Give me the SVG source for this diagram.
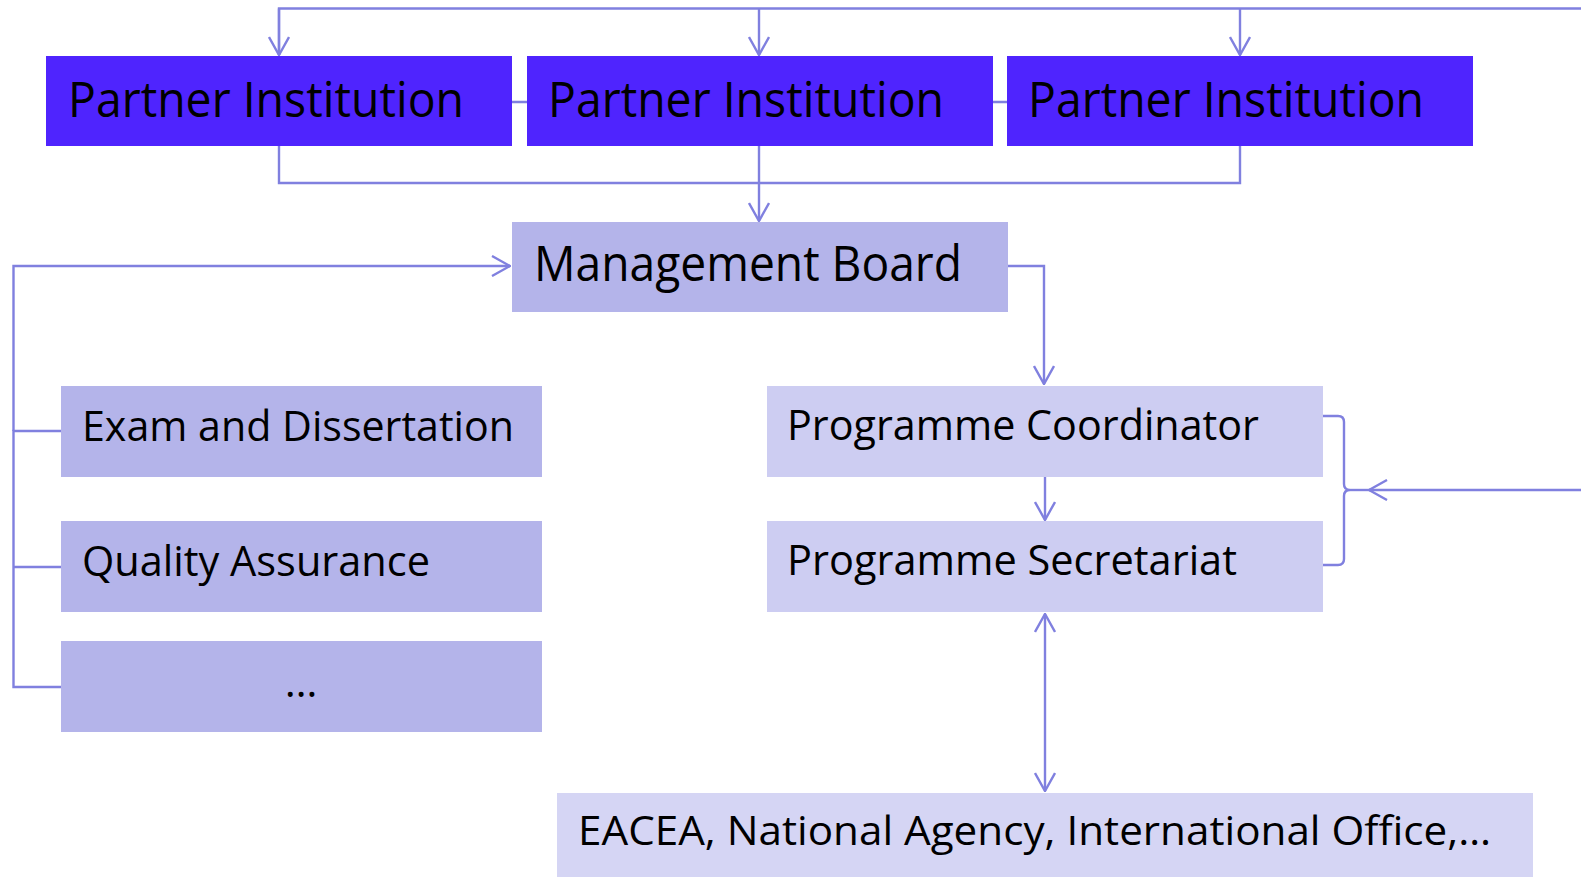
<svg xmlns="http://www.w3.org/2000/svg" width="1581" height="877" viewBox="0 0 1581 877">
<style>
.pi{fill:#4F24FE}
.mb{fill:#B4B4EA}
.pc{fill:#CDCDF2}
.ea{fill:#D5D5F4}
text{font-family:"Open Sans","Liberation Sans",sans-serif;fill:#000}
.big{font-size:49px}
.mid{font-size:42px}
.sm{font-size:40px}
.c{fill:none;stroke:#8080DF;stroke-width:2.4}
</style>
<defs>
<marker id="arr" viewBox="0 0 20 22" refX="19" refY="11" markerWidth="20" markerHeight="22" markerUnits="userSpaceOnUse" orient="auto-start-reverse">
<path d="M1,1 L19,11 L1,21" fill="none" stroke="#8080DF" stroke-width="2.4"/>
</marker>
</defs>
<g id="connectors">
<path class="c" d="M279,55 V8.5 H1581"/>
<path class="c" d="M759,8.5 V55" marker-end="url(#arr)"/>
<path class="c" d="M1240,8.5 V55" marker-end="url(#arr)"/>
<path class="c" d="M279,8.5 V55" marker-end="url(#arr)"/>
<path class="c" d="M512,102 H527 M993,102 H1007"/>
<path class="c" d="M279,146 V183 H1240 V146"/>
<path class="c" d="M759,146 V221" marker-end="url(#arr)"/>
<path class="c" d="M61,431 H13.5 V687 H61 M13.5,567 H61"/>
<path class="c" d="M13.5,431 V266 H510" marker-end="url(#arr)"/>
<path class="c" d="M1008,266 H1044 V384" marker-end="url(#arr)"/>
<path class="c" d="M1045,477 V520" marker-end="url(#arr)"/>
<path class="c" d="M1045,614 V791" marker-start="url(#arr)" marker-end="url(#arr)"/>
<path class="c" d="M1323,416 H1338 Q1344,416 1344,422 V484 Q1344,490 1350,490 Q1344,490 1344,496 V559 Q1344,565 1338,565 H1323"/>
<path class="c" d="M1350,490 H1370"/>
<path class="c" d="M1581,490 H1369" marker-end="url(#arr)"/>
</g>
<g id="partner1"><rect class="pi" x="46" y="56" width="466" height="90"/><text class="big" x="68" y="117" textLength="396" lengthAdjust="spacingAndGlyphs">Partner Institution</text></g>
<g id="partner2"><rect class="pi" x="527" y="56" width="466" height="90"/><text class="big" x="548" y="117" textLength="396" lengthAdjust="spacingAndGlyphs">Partner Institution</text></g>
<g id="partner3"><rect class="pi" x="1007" y="56" width="466" height="90"/><text class="big" x="1028" y="117" textLength="396" lengthAdjust="spacingAndGlyphs">Partner Institution</text></g>
<g id="management-board"><rect class="mb" x="512" y="222" width="496" height="90"/><text class="big" x="534" y="281" textLength="428" lengthAdjust="spacingAndGlyphs">Management Board</text></g>
<g id="exam"><rect class="mb" x="61" y="386" width="481" height="91"/><text class="mid" x="82" y="441" textLength="432" lengthAdjust="spacingAndGlyphs">Exam and Dissertation</text></g>
<g id="quality"><rect class="mb" x="61" y="521" width="481" height="91"/><text class="mid" x="82" y="576" textLength="348" lengthAdjust="spacingAndGlyphs">Quality Assurance</text></g>
<g id="more"><rect class="mb" x="61" y="641" width="481" height="91"/><text class="mid" x="301" y="697" text-anchor="middle">…</text></g>
<g id="coordinator"><rect class="pc" x="767" y="386" width="556" height="91"/><text class="mid" x="787" y="440" textLength="472" lengthAdjust="spacingAndGlyphs">Programme Coordinator</text></g>
<g id="secretariat"><rect class="pc" x="767" y="521" width="556" height="91"/><text class="mid" x="787" y="575" textLength="450" lengthAdjust="spacingAndGlyphs">Programme Secretariat</text></g>
<g id="eacea"><rect class="ea" x="557" y="793" width="976" height="84"/><text class="sm" x="578" y="845" textLength="913" lengthAdjust="spacingAndGlyphs">EACEA, National Agency, International Office,…</text></g>
</svg>
